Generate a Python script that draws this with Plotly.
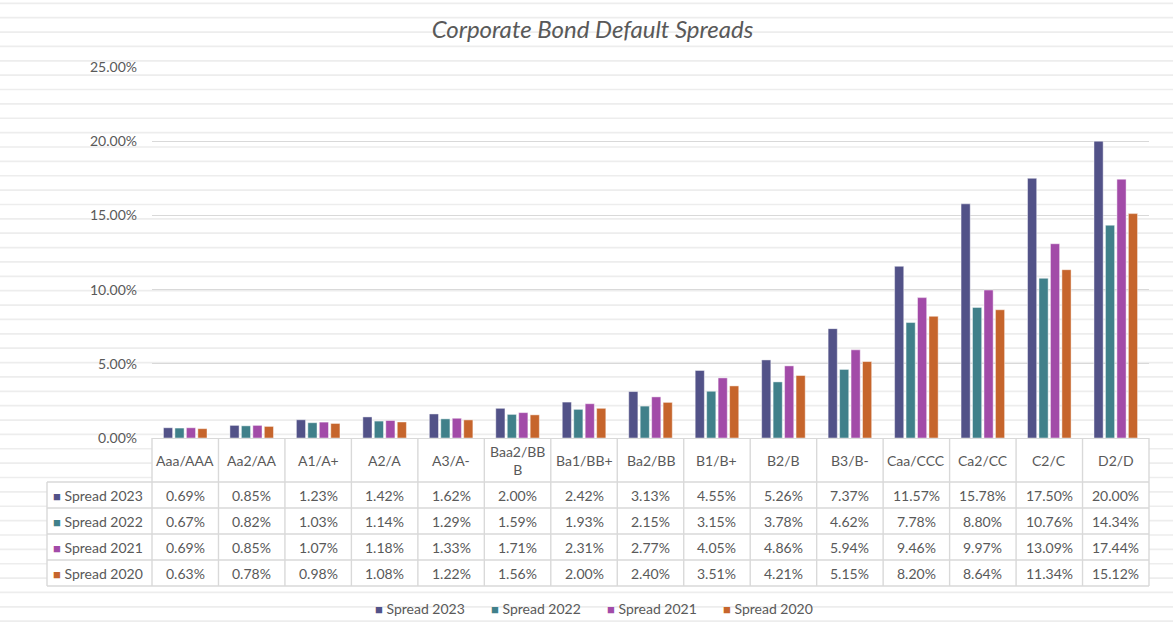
import plotly.graph_objects as go

# ---------------- data ----------------
categories = ["Aaa/AAA", "Aa2/AA", "A1/A+", "A2/A", "A3/A-", "Baa2/BBB", "Ba1/BB+", "Ba2/BB",
              "B1/B+", "B2/B", "B3/B-", "Caa/CCC", "Ca2/CC", "C2/C", "D2/D"]
series_names = ["Spread 2023", "Spread 2022", "Spread 2021", "Spread 2020"]
spread_2023 = [0.0069, 0.0085, 0.0123, 0.0142, 0.0162, 0.0200, 0.0242, 0.0313, 0.0455, 0.0526,
               0.0737, 0.1157, 0.1578, 0.1750, 0.2000]
spread_2022 = [0.0067, 0.0082, 0.0103, 0.0114, 0.0129, 0.0159, 0.0193, 0.0215, 0.0315, 0.0378,
               0.0462, 0.0778, 0.0880, 0.1076, 0.1434]
spread_2021 = [0.0069, 0.0085, 0.0107, 0.0118, 0.0133, 0.0171, 0.0231, 0.0277, 0.0405, 0.0486,
               0.0594, 0.0946, 0.0997, 0.1309, 0.1744]
spread_2020 = [0.0063, 0.0078, 0.0098, 0.0108, 0.0122, 0.0156, 0.0200, 0.0240, 0.0351, 0.0421,
               0.0515, 0.0820, 0.0864, 0.1134, 0.1512]
y_ticks = [0.0, 0.05, 0.10, 0.15, 0.20, 0.25]
title_text = "Corporate Bond Default Spreads"

series_values = [spread_2023, spread_2022, spread_2021, spread_2020]
colors = ["#525288", "#40808A", "#A24BA8", "#C6652C"]

# ---------------- layout geometry (pixels) ----------------
W, H = 1173, 622
L, R, T, B = 152, 1149, 67, 438
FONT = "Lato"
GREY = "#595959"
LINE = "#d9d9d9"
FS = 14


def pxx(p):
    return (p - L) / (R - L)


def pxy(p):
    return (B - p) / (B - T)


def wrap(label, n=7):
    return label if len(label) <= n else label[:n] + "<br>" + label[n:]


def key(name, col):
    return f"<span style='color:{col};font-size:13px'>■</span> {name}"


fig = go.Figure()
for name, vals, col in zip(series_names, series_values, colors):
    fig.add_trace(go.Bar(
        name=name, x=categories, y=vals, showlegend=False,
        marker=dict(color=col, line=dict(color="rgba(255,255,255,0.45)", width=1)),
    ))

shapes = []
# striped background (pattern fill of the chart area)
k = 0
while True:
    yy = 3.3 + 14.37 * k
    if yy > H:
        break
    shapes.append(dict(type="line", xref="paper", yref="paper", x0=pxx(0), x1=pxx(W),
                       y0=pxy(yy), y1=pxy(yy), line=dict(color="#ededed", width=1.7), layer="below"))
    k += 1

# data table white cells
shapes.append(dict(type="rect", xref="paper", yref="paper", x0=pxx(47), x1=1, y0=pxy(586), y1=pxy(482),
                   fillcolor="white", line=dict(width=0), layer="below"))
shapes.append(dict(type="rect", xref="paper", yref="paper", x0=0, x1=1, y0=pxy(482), y1=0,
                   fillcolor="white", line=dict(width=0), layer="below"))
# table horizontal lines
for yy in [482, 508, 534, 560, 586]:
    shapes.append(dict(type="line", xref="paper", yref="paper", x0=pxx(47), x1=1, y0=pxy(yy), y1=pxy(yy),
                       line=dict(color=LINE, width=1.4), layer="above"))
# table vertical lines
for xx in [0, 1]:
    shapes.append(dict(type="line", xref="paper", yref="paper", x0=xx, x1=xx, y0=pxy(586), y1=0,
                       line=dict(color=LINE, width=1.4), layer="above"))
shapes.append(dict(type="line", xref="paper", yref="paper", x0=pxx(47), x1=pxx(47), y0=pxy(586), y1=pxy(482),
                   line=dict(color=LINE, width=1.4), layer="above"))
for i in range(len(categories) - 1):
    shapes.append(dict(type="line", xref="x", yref="paper", x0=i + 0.5, x1=i + 0.5, y0=pxy(586), y1=0,
                       line=dict(color=LINE, width=1.4), layer="above"))

annotations = []
for c in categories:
    annotations.append(dict(x=c, xref="x", y=pxy(460), yref="paper", text=wrap(c), showarrow=False,
                            font=dict(family=FONT, size=FS, color=GREY), yanchor="middle"))
for r, (name, vals, col) in enumerate(zip(series_names, series_values, colors)):
    yrow = pxy(495 + 26 * r)
    annotations.append(dict(x=pxx(51), xref="paper", y=yrow, yref="paper", xanchor="left", yanchor="middle",
                            text=key(name, col), showarrow=False, font=dict(family=FONT, size=FS, color=GREY)))
    for c, v in zip(categories, vals):
        annotations.append(dict(x=c, xref="x", y=yrow, yref="paper", text=f"{v * 100:.2f}%",
                                showarrow=False, font=dict(family=FONT, size=FS, color=GREY),
                                yanchor="middle"))
# legend row below the table
for j, (name, col) in enumerate(zip(series_names, colors)):
    annotations.append(dict(x=pxx(373 + 116 * j), xref="paper", y=pxy(608), yref="paper",
                            xanchor="left", yanchor="middle", text=key(name, col), showarrow=False,
                            font=dict(family=FONT, size=FS, color=GREY)))

fig.update_layout(
    width=W, height=H,
    margin=dict(l=L, r=W - R, t=T, b=H - B, pad=0, autoexpand=False),
    paper_bgcolor="white", plot_bgcolor="rgba(0,0,0,0)",
    title=dict(text=title_text, x=592.5 / W, xref="container", xanchor="center",
               y=1 - 30 / H, yref="container", yanchor="middle",
               font=dict(family=FONT, size=24, color=GREY, style="italic")),
    barmode="group", bargap=0.31, bargroupgap=0.2,
    xaxis=dict(type="category", categoryorder="array", categoryarray=categories,
               range=[-0.5, len(categories) - 0.5], showticklabels=False, showgrid=False,
               showline=True, linecolor=LINE, linewidth=1.4, ticks="", zeroline=False, fixedrange=True),
    yaxis=dict(range=[0, 0.25], tickvals=y_ticks, tickformat=".2%", showgrid=True, gridcolor=LINE,
               gridwidth=1.4, zeroline=False, showline=False, ticks="", ticklabelstandoff=14,
               tickfont=dict(family=FONT, size=FS, color=GREY), fixedrange=True),
    showlegend=False,
    shapes=shapes, annotations=annotations,
    font=dict(family=FONT, color=GREY),
)

fig.write_html("out.html", config={"displayModeBar": False},
               post_script="document.body.style.margin='0';")
